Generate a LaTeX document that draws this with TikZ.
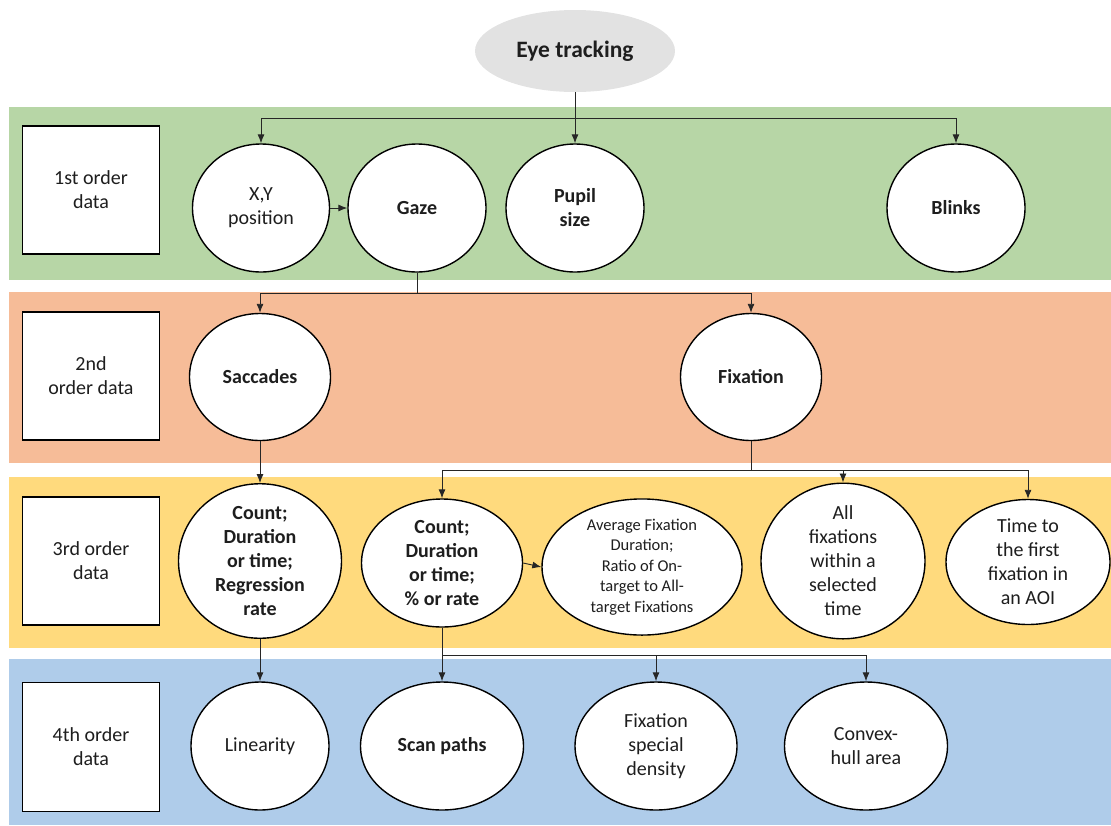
\documentclass[tikz,border=0pt]{standalone}
\usepackage{fontspec}
\setmainfont{Carlito}
\usetikzlibrary{arrows.meta,shapes.geometric}
\definecolor{bgreen}{RGB}{183,214,166}
\definecolor{borange}{RGB}{246,188,152}
\definecolor{byellow}{RGB}{255,218,125}
\definecolor{bblue}{RGB}{175,204,234}
\definecolor{egray}{RGB}{226,226,226}
\definecolor{txt}{RGB}{30,30,30}
\begin{document}
\begin{tikzpicture}[x=1pt,y=-1pt,
  lab/.style={draw=black,line width=1.4pt,fill=white,minimum width=137pt,minimum height=128pt,
    align=center,text=txt,font=\fontsize{20}{24}\selectfont,inner sep=0pt},
  ell/.style={ellipse,draw=black,line width=1.4pt,fill=white,inner sep=0pt,
    align=center,text=txt,font=\fontsize{20}{24}\selectfont},
  bell/.style={ell,font=\fontsize{20}{24}\selectfont\bfseries},
  arr/.style={-{Latex[length=9pt,width=7pt]},line width=0.9pt,draw=black!85},
  con/.style={line width=0.9pt,draw=black!85}]
\useasboundingbox (0,0) rectangle (1111,825);
% bands
\fill[bgreen] (9,107) rectangle (1111,280);
\fill[borange] (9,292) rectangle (1111,463);
\fill[byellow] (9,477) rectangle (1111,648);
\fill[bblue] (9,659) rectangle (1111,825);
% top
\node[ellipse,fill=egray,minimum width=200pt,minimum height=82pt,inner sep=0pt,text=txt,
  font=\fontsize{23.5}{28}\selectfont\bfseries] (et) at (575,51) {Eye tracking};
% row 1
\node[lab] (l1) at (91,190) {1st order\\data};
\node[ell,minimum width=137pt,minimum height=128pt] (xy) at (261,208) {X,Y\\position};
\node[bell,minimum width=138pt,minimum height=128pt] (gaze) at (417,208) {Gaze};
\node[bell,minimum width=138pt,minimum height=128pt] (pupil) at (575,208) {Pupil\\size};
\node[bell,minimum width=138pt,minimum height=128pt] (blinks) at (956,208) {Blinks};
\coordinate (j1) at (575,118);
\draw[arr] (et.south) -- (pupil.north);
\draw[arr] (j1) -| (xy.north);
\draw[arr] (j1) -| (blinks.north);
\draw[arr] (xy.east) -- (gaze.west);
% row 2
\node[lab] (l2) at (91,376) {2nd\\order data};
\node[bell,minimum width=141pt,minimum height=127pt] (sac) at (260,377) {Saccades};
\node[bell,minimum width=141pt,minimum height=127pt] (fix) at (751,377) {Fixation};
\coordinate (j2) at (417,293);
\draw[con] (gaze.south) -- (j2);
\draw[arr] (j2) -| (sac.north);
\draw[arr] (j2) -| (fix.north);
% row 3
\node[lab] (l3) at (91,561) {3rd order\\data};
\node[bell,minimum width=163pt,minimum height=126pt] (c1) at (260,561) {Count;\\Duration\\or time;\\Regression\\rate};
\node[bell,minimum width=161pt,minimum height=128pt] (c2) at (442,563) {Count;\\Duration\\or time;\\\% or rate};
\node[ell,minimum width=200pt,minimum height=120pt,font=\fontsize{16.5}{20.5}\selectfont] (avg) at (642,567)
  {Average Fixation\\Duration;\\Ratio of On-\\target to All-\\target Fixations};
\node[ell,minimum width=164pt,minimum height=127pt] (all) at (843,561) {All\\fixations\\within a\\selected\\time};
\node[ell,minimum width=164pt,minimum height=125pt] (time) at (1028,562) {Time to\\the first\\fixation in\\an AOI};
\draw[arr] (sac.south) -- (c1.north);
\coordinate (j3) at (751,470);
\draw[con] (fix.south) -- (j3);
\draw[arr] (j3) -| (c2.north);
\draw[arr] (j3) -| (all.north);
\draw[arr] (j3) -| (time.north);
\draw[arr] (c2.east) -- (avg.west);
% row 4
\node[lab,minimum height=129pt] (l4) at (91,747) {4th order\\data};
\node[ell,minimum width=138pt,minimum height=128pt] (lin) at (260,746) {Linearity};
\node[bell,minimum width=163pt,minimum height=128pt] (scan) at (442,746) {Scan paths};
\node[ell,minimum width=162pt,minimum height=128pt] (dens) at (656,746) {Fixation\\special\\density};
\node[ell,minimum width=163pt,minimum height=128pt] (hull) at (866,746) {Convex-\\hull area};
\draw[arr] (c1.south) -- (lin.north);
\coordinate (j4) at (442,655);
\draw[arr] (c2.south) -- (scan.north);
\draw[arr] (j4) -| (dens.north);
\draw[arr] (j4) -| (hull.north);
\end{tikzpicture}
\end{document}
